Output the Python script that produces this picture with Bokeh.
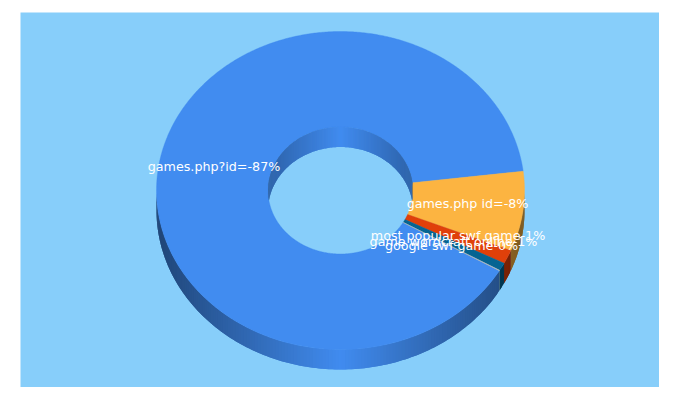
import math
from bokeh.plotting import figure
from bokeh.models import Range1d, ColumnDataSource
from bokeh.core.properties import value
from bokeh.embed import file_html
from bokeh.resources import INLINE

# --- data ---
labels = ["games.php?id=-87%", "games.php id=-8%", "most popular swf game-1%",
          "game wordcraft online-1%", "google swf game-0%"]
shares = [89.65, 8.1, 1.4, 0.8, 0.05]   # drawn share of the ring, in percent
slice_colors = ["#418CF0", "#FCB441", "#E0400A", "#056492", "#BFBFBF"]

# --- layout (pixels of the photographed page) ---
BG = "#87CEFA"
CX, CY, RX, RY, IRX, IRY, DEPTH = 340.0, 190.0, 184.0, 159.0, 72.5, 63.5, 20.0
START = 30.3   # clockwise from 3 o'clock, degrees, where the first slice begins
OUTER_SHADE = 0.5
INNER_SHADE = 0.3
label_x = [213.5, 467, 457.5, 453, 451]
label_y = [165.5, 202.5, 235, 241, 244.5]

p = figure(width=659, height=387, output_backend="svg", toolbar_location=None,
           x_range=Range1d(20, 659), y_range=Range1d(387, 12),
           min_border_left=20, min_border_top=12, min_border_right=0, min_border_bottom=0)
p.axis.visible = False
p.grid.visible = False
p.outline_line_color = None
p.background_fill_color = BG
p.border_fill_color = "white"


def shade(hex_color, frac, amount):
    r, g, b = (int(hex_color[i:i + 2], 16) for i in (1, 3, 5))
    f = 1 - amount * frac
    return "#%02x%02x%02x" % (int(r * f), int(g * f), int(b * f))


def arc(rx, ry, a, b, n):
    ts = [math.radians(a + (b - a) * i / n) for i in range(n + 1)]
    return [CX + rx * math.cos(t) for t in ts], [CY + ry * math.sin(t) for t in ts]


# slice spans, clockwise in degrees
spans = []
pos = START
for s in shares:
    spans.append((pos, pos + s * 3.6))
    pos += s * 3.6


def overlap(a, b, lo, hi):
    """Parts of [a, b] that fall in [lo, hi] modulo 360."""
    out = []
    for k in (-360, 0, 360):
        x0, x1 = max(a, lo + k), min(b, hi + k)
        if x1 > x0:
            out.append((x0, x1))
    return out


STEP = 1.0


def pieces(lo, hi):
    """Steps along an arc; each reaches one step further so seams stay covered."""
    n = max(1, int((hi - lo) / STEP))
    d = (hi - lo) / n
    for i in range(n):
        t0 = lo + d * i
        t1 = lo + d * (i + 1)
        yield t0, min(hi, t1 + d), abs(math.cos(math.radians((t0 + t1) / 2)))


wx, wy, wc = [], [], []
for (a, b), col in zip(spans, slice_colors):
    for lo, hi in overlap(a, b, 0, 180):
        for t0, t1, fr in pieces(lo, hi):
            xs, ys = arc(RX, RY, t0, t1, 2)
            wx.append(xs + xs[::-1])
            wy.append(ys + [y + DEPTH for y in ys[::-1]])
            wc.append(shade(col, fr, OUTER_SHADE))
p.patches("x", "y", fill_color="c", line_color=None,
          source=ColumnDataSource(dict(x=wx, y=wy, c=wc)))

# top face
fx, fy, fc = [], [], []
for (a, b), col in zip(spans, slice_colors):
    n = max(2, int(b - a) * 2)
    ox, oy = arc(RX, RY, a, b, n)
    ix, iy = arc(IRX, IRY, a, b, n)
    fx.append(ox + ix[::-1])
    fy.append(oy + iy[::-1])
    fc.append(col)
p.patches("x", "y", fill_color="c", line_color="c", line_width=0.4,
          source=ColumnDataSource(dict(x=fx, y=fy, c=fc)))

# inner wall, seen through the hole at the back
hx, hy, hc = [], [], []
for (a, b), col in zip(spans, slice_colors):
    for lo, hi in overlap(a, b, 180, 360):
        for t0, t1, fr in pieces(lo, hi):
            xs, ys = arc(IRX, IRY, t0, t1, 2)
            # clip the lower edge of the wall to the hole's lower rim
            lower = [min(y + DEPTH, 2 * CY - y) for y in ys]
            hx.append(xs + xs[::-1])
            hy.append(ys + lower[::-1])
            hc.append(shade(col, fr, INNER_SHADE))
p.patches("x", "y", fill_color="c", line_color=None,
          source=ColumnDataSource(dict(x=hx, y=hy, c=hc)))

p.text(x=label_x, y=label_y, text=labels, text_color="white", text_align="center",
       text_baseline="middle", text_font=value("DejaVu Sans"), text_font_size="12.7px")

open("out.html", "w").write(file_html(p, INLINE))
